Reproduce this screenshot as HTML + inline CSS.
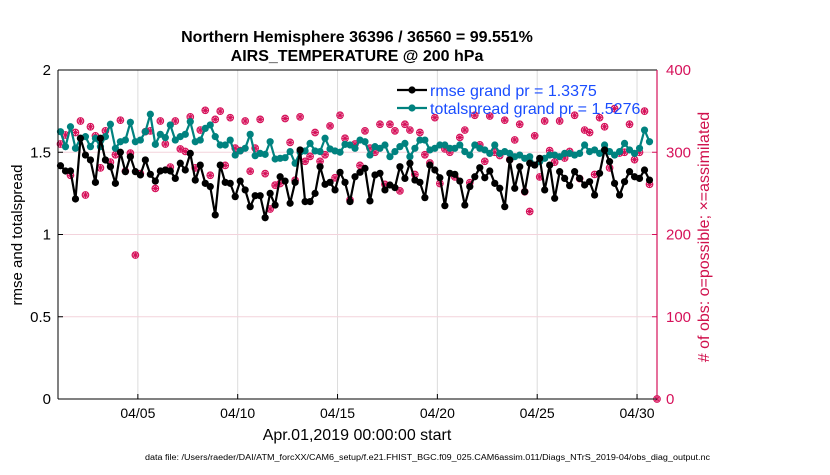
<!DOCTYPE html>
<html><head><meta charset="utf-8"><style>
body{margin:0;background:#fff;width:830px;height:470px;overflow:hidden}
svg{font-family:"Liberation Sans",Arial,sans-serif}
</style></head><body>
<svg id="chart" width="830" height="470" xmlns="http://www.w3.org/2000/svg">
<text x="357" y="42" text-anchor="middle" font-size="16" font-weight="bold">Northern Hemisphere 36396 / 36560 = 99.551%</text>
<text x="357" y="61" text-anchor="middle" font-size="16" font-weight="bold">AIRS_TEMPERATURE @ 200 hPa</text>
<g id="grid"></g>
<g id="marks"></g>
<g id="axes"></g>
<text transform="translate(22,235) rotate(-90)" text-anchor="middle" font-size="15">rmse and totalspread</text>
<text transform="translate(709,237) rotate(-90)" text-anchor="middle" font-size="16" fill="#d0104c"># of obs: o=possible; ×=assimilated</text>
<text x="357" y="440" text-anchor="middle" font-size="16">Apr.01,2019 00:00:00 start</text>
<text x="145" y="460" font-size="8" textLength="565" lengthAdjust="spacingAndGlyphs">data file: /Users/raeder/DAI/ATM_forcXX/CAM6_setup/f.e21.FHIST_BGC.f09_025.CAM6assim.011/Diags_NTrS_2019-04/obs_diag_output.nc</text>
<g id="legend"></g>
</svg>
<script>
const rmse=[1.418,1.386,1.386,1.216,1.585,1.483,1.453,1.317,1.585,1.453,1.412,1.311,1.500,1.382,1.473,1.382,1.362,1.453,1.366,1.325,1.386,1.392,1.386,1.341,1.433,1.392,1.493,1.331,1.422,1.311,1.291,1.119,1.422,1.317,1.311,1.230,1.325,1.271,1.169,1.236,1.236,1.102,1.250,1.179,1.351,1.325,1.190,1.317,1.514,1.200,1.200,1.250,1.412,1.305,1.317,1.271,1.378,1.317,1.200,
1.351,1.378,1.402,1.204,1.362,1.372,1.271,1.301,1.285,1.412,1.341,1.433,1.331,1.317,1.224,1.422,1.392,1.345,1.175,1.372,1.366,1.325,1.179,1.291,1.351,1.406,1.345,1.386,1.311,1.281,1.169,1.453,1.281,1.412,1.260,1.433,1.422,1.463,1.271,1.422,1.220,1.382,1.341,1.297,1.382,1.341,1.301,1.321,1.240,1.372,1.514,1.443,1.311,1.240,1.321,1.382,1.351,1.341,1.392,1.331];
const spread=[1.625,1.534,1.655,1.524,1.585,1.595,1.534,1.585,1.534,1.595,1.670,1.524,1.564,1.574,1.682,1.564,1.574,1.625,1.731,1.548,1.609,1.589,1.666,1.574,1.595,1.609,1.686,1.564,1.574,1.645,1.666,1.595,1.544,1.544,1.574,1.483,1.508,1.524,1.609,1.479,1.493,1.487,1.564,1.459,1.463,1.467,1.504,1.433,1.500,1.508,1.554,1.508,1.504,1.585,1.520,1.508,1.500,1.548,1.544,
1.524,1.574,1.564,1.483,1.534,1.524,1.544,1.473,1.504,1.534,1.554,1.473,1.524,1.574,1.574,1.514,1.524,1.544,1.544,1.524,1.524,1.544,1.504,1.483,1.544,1.524,1.514,1.493,1.544,1.493,1.504,1.493,1.473,1.483,1.463,1.473,1.422,1.443,1.463,1.483,1.483,1.473,1.493,1.493,1.483,1.493,1.544,1.504,1.514,1.493,1.544,1.504,1.483,1.504,1.554,1.514,1.493,1.524,1.635,1.564];
const obs=[310,321,272,324,338,248,331,320,281,326,288,297,339,277,299,175,274,325,326,256,338,310,282,338,304,301,343,281,327,351,272,340,350,284,342,305,302,338,277,305,340,274,231,260,262,341,312,266,343,289,295,324,289,297,332,269,345,317,242,
310,284,326,305,300,334,261,334,326,253,334,327,273,324,297,287,342,262,304,300,270,318,327,263,345,309,289,344,300,296,339,291,315,334,252,228,320,270,338,302,288,338,293,301,345,268,327,324,273,342,331,281,353,299,300,334,291,300,350,261,0];
const xTickDays=[4,9,14,19,24,29];
const xTickLabels=["04/05","04/10","04/15","04/20","04/25","04/30"];
const yTicks=[0,0.5,1,1.5,2];
const y2Ticks=[0,100,200,300,400];
const legendLabels=["rmse grand pr = 1.3375","totalspread grand pr = 1.5276"];

const X0=58,X1=657,Y0=399,Y1=70;
const xs=d=>X0+(d/30)*(X1-X0);
const ys=v=>Y0-(v/2)*(Y0-Y1);
const ys2=v=>Y0-(v/400)*(Y0-Y1);
const dayOf=i=>0.125+i*0.25;
const NS="http://www.w3.org/2000/svg";
function mk(tag,attrs,parent){const e=document.createElementNS(NS,tag);for(const k in attrs)e.setAttribute(k,attrs[k]);parent.appendChild(e);return e;}
const grid=document.getElementById('grid'),marks=document.getElementById('marks'),axes=document.getElementById('axes'),legend=document.getElementById('legend');
const MAG="#d6115a",TEAL="#00827f";

mk('rect',{x:X0,y:Y1,width:X1-X0,height:Y0-Y1,fill:'#fff'},grid);
xTickDays.forEach((d,i)=>{
  const l=mk('line',{x1:xs(d),x2:xs(d),y1:Y1,y2:Y0,stroke:'#dcdcdc','stroke-width':1},grid);
  
  
  const t=mk('text',{x:xs(d),y:418,'text-anchor':'middle','font-size':14},axes);t.textContent=xTickLabels[i];
  
  
  mk('line',{x1:xs(d),x2:xs(d),y1:Y0,y2:Y0-5,stroke:'#000'},axes);
});
yTicks.forEach(v=>{
  if(v>0&&v<2){const l=mk('line',{x1:X0,x2:X1,y1:ys(v),y2:ys(v),stroke:'#f3d3dc','stroke-width':1},grid);
  
  }
  const t=mk('text',{x:51,y:ys(v)+5,'text-anchor':'end','font-size':15},axes);t.textContent=v;
  
  
  mk('line',{x1:X0,x2:X0+5,y1:ys(v),y2:ys(v),stroke:'#000'},axes);
});
y2Ticks.forEach(v=>{
  const t=mk('text',{x:666,y:ys2(v)+5,'font-size':15,fill:MAG},axes);t.textContent=v;
  
  
  mk('line',{x1:X1,x2:X1-5,y1:ys2(v),y2:ys2(v),stroke:MAG},axes);
});
mk('line',{x1:X0,x2:X1,y1:Y1,y2:Y1,stroke:'#000'},axes);
mk('line',{x1:X0,x2:X1,y1:Y0,y2:Y0,stroke:'#000'},axes);
mk('line',{x1:X0,x2:X0,y1:Y1,y2:Y0,stroke:'#000'},axes);
mk('line',{x1:X1,x2:X1,y1:Y1,y2:Y0,stroke:MAG,'stroke-width':1.2},axes);

function star(cx,cy,parent){
  const g=mk('g',{},parent);
  mk('circle',{cx:cx,cy:cy,r:3.3,fill:'none',stroke:MAG,'stroke-width':1.1},g);
  mk('path',{d:`M${cx-3.5},${cy}H${cx+3.5}M${cx},${cy-3.5}V${cy+3.5}M${cx-2.5},${cy-2.5}L${cx+2.5},${cy+2.5}M${cx-2.5},${cy+2.5}L${cx+2.5},${cy-2.5}`,stroke:MAG,'stroke-width':1.1},g);
  return g;
}
function series(vals,color,name){
  const pts=vals.map((v,i)=>xs(dayOf(i)).toFixed(1)+','+ys(v).toFixed(1)).join(' ');
  const pl=mk('polyline',{points:pts,fill:'none',stroke:color,'stroke-width':2.2},marks);
  
  
  vals.forEach((v,i)=>{
    const c=mk('circle',{cx:xs(dayOf(i)),cy:ys(v),r:3.6,fill:color},marks);
    
    
  });
}
obs.forEach((v,i)=>{
  const d=i===obs.length-1?30:dayOf(i);
  const g=star(xs(d),ys2(v),marks);
  
  
});
series(spread,TEAL,'totalspread');
series(rmse,'#000','rmse');

[['#000',0],[TEAL,1]].forEach(([c,i])=>{
  const y=90+i*18;
  mk('line',{x1:397,x2:427,y1:y,y2:y,stroke:c,'stroke-width':2.2},legend);
  mk('circle',{cx:412,cy:y,r:3.6,fill:c},legend);
  const t=mk('text',{x:430,y:y+6,'font-size':16,fill:'#1a4dff'},legend);t.textContent=legendLabels[i];
  
  
});
</script>
</body></html>
